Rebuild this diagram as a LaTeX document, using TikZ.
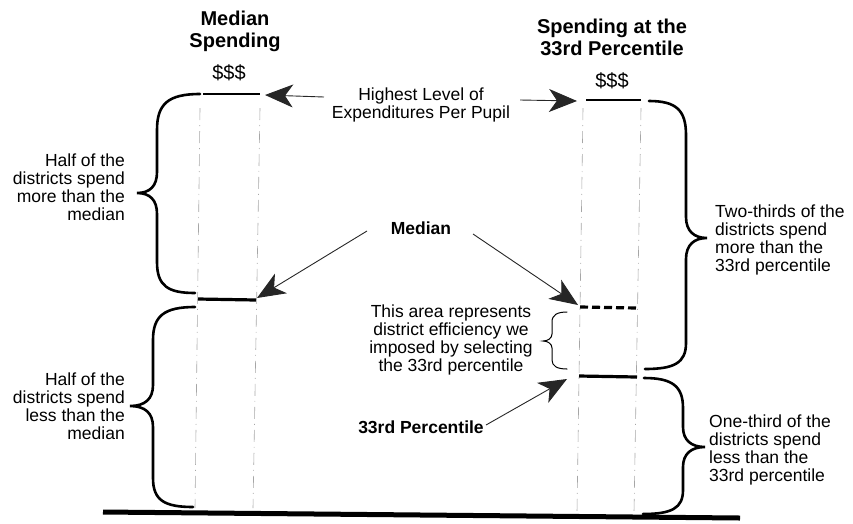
\documentclass[tikz,border=0pt]{standalone}
\usepackage{fontspec}
\setmainfont{Liberation Sans}
\usetikzlibrary{arrows.meta}
\begin{document}
\begin{tikzpicture}[x=1pt,y=-1pt,
  txt/.style={font=\fontsize{17.5}{18}\selectfont, inner sep=0pt},
  bold/.style={font=\fontsize{17.5}{18}\selectfont\bfseries, inner sep=0pt},
  title/.style={font=\fontsize{20}{22}\selectfont\bfseries, inner sep=0pt, align=center},
  dollar/.style={font=\fontsize{20}{22}\selectfont, inner sep=0pt},
  colline/.style={gray!70, line width=0.6pt, dash pattern=on 12pt off 5pt on 1pt off 5pt},
  brace/.style={line width=2.6pt, line cap=round},
  thinbrace/.style={line width=1pt, line cap=round},
  arr/.style={black!85, line width=0.9pt, -{Stealth[length=28pt,width=23pt,inset=8pt]}},
  level/.style={line width=3.2pt}
]
\useasboundingbox (0,0) rectangle (853,523);

% ground
\coordinate (g1) at (103,512);
\coordinate (g2) at (740,518);
\draw[line width=5pt] (g1) -- (g2);

% column guide lines
\coordinate (la1) at (200,108); \coordinate (la2) at (195,508);
\coordinate (lb1) at (260,108); \coordinate (lb2) at (253,508);
\coordinate (ra1) at (583,108); \coordinate (ra2) at (577,512);
\coordinate (rb1) at (641,108); \coordinate (rb2) at (634,512);
\draw[colline] (la1) -- (la2);
\draw[colline] (lb1) -- (lb2);
\draw[colline] (ra1) -- (ra2);
\draw[colline] (rb1) -- (rb2);

% level lines
\coordinate (ltopL) at (203,94); \coordinate (ltopR) at (260,94);
\coordinate (rtopL) at (586,100); \coordinate (rtopR) at (641,100);
\draw[line width=1.2pt] (ltopL) -- (ltopR);
\draw[line width=1.2pt] (rtopL) -- (rtopR);
\coordinate (lmedL) at (198,299); \coordinate (lmedR) at (256,300);
\draw[level] (lmedL) -- (lmedR);
\coordinate (rmedL) at (580,307); \coordinate (rmedR) at (637,308);
\draw[level, dash pattern=on 8pt off 4pt] (rmedL) -- (rmedR);
\coordinate (p33L) at (579,376); \coordinate (p33R) at (637,377);
\draw[level] (p33L) -- (p33R);

% titles
\node[title] (t1) at (235,31) {Median\\Spending};
\node[title] (t2) at (612,37) {Spending at the\\33rd Percentile};
\node[dollar] (d1) at (229,73) {\$\$\$};
\node[dollar] (d2) at (612,81) {\$\$\$};

% highest level
\node[txt, align=center] (hl) at (421,105) {Highest Level of\\Expenditures Per Pupil};
\coordinate (hlL) at (324,97); \coordinate (hlLt) at (265,95);
\coordinate (hlR) at (520,100); \coordinate (hlRt) at (577,101);
\draw[arr] (hlL) -- (hlLt);
\draw[arr] (hlR) -- (hlRt);

% median label
\node[bold] (med) at (421,228) {Median};
\coordinate (medL) at (367,231); \coordinate (medR) at (473,234);
\coordinate (medLt) at (257,298); \coordinate (medRt) at (578,305);
\draw[arr] (medL) -- (medLt);
\draw[arr] (medR) -- (medRt);

% efficiency text
\node[txt, align=center] (eff) at (451,340) {This area represents\\district efficiency we\\imposed by selecting\\the 33rd percentile};

% 33rd percentile label
\node[bold] (p33) at (421,427) {33rd Percentile};
\coordinate (p33s) at (486,425); \coordinate (p33t) at (567,379);
\draw[arr] (p33s) -- (p33t);

% side texts
\node[txt, align=right, anchor=east] (lu) at (125,187) {Half of the\\districts spend\\more than the\\median};
\node[txt, align=right, anchor=east] (ll) at (125,406) {Half of the\\districts spend\\less than the\\median};
\node[txt, align=left, anchor=west] (ru) at (715,240) {Two-thirds of the\\districts spend\\more than the\\33rd percentile};
\node[txt, align=left, anchor=west] (rl) at (709,450) {One-third of the\\districts spend\\less than the\\33rd percentile};

% braces
\draw[brace] (200,94) .. controls (168,94) and (157,104) .. (157,130) -- (157,172)
  .. controls (157,186) and (150,193) .. (137,193)
  .. controls (150,193) and (157,200) .. (157,214) -- (157,262)
  .. controls (157,286) and (168,293) .. (195,293);
\draw[brace] (195,307) .. controls (164,307) and (153,316) .. (153,340) -- (153,385)
  .. controls (153,399) and (145,406) .. (130,406)
  .. controls (145,406) and (153,413) .. (153,427) -- (153,478)
  .. controls (153,500) and (164,507) .. (193,507);
\draw[brace] (649,101) .. controls (676,101) and (686,110) .. (686,135) -- (686,217)
  .. controls (686,231) and (694,238) .. (707,238)
  .. controls (694,238) and (686,245) .. (686,259) -- (686,343)
  .. controls (686,363) and (674,369) .. (645,369);
\draw[brace] (644,378) .. controls (672,378) and (683,386) .. (683,408) -- (683,427)
  .. controls (683,440) and (691,447) .. (705,447)
  .. controls (691,447) and (683,454) .. (683,467) -- (683,490)
  .. controls (683,508) and (672,514) .. (643,514);
\draw[thinbrace] (567,312) .. controls (557,312) and (552,315) .. (552,322) -- (552,334)
  .. controls (552,338) and (548,341) .. (543,341)
  .. controls (548,341) and (552,344) .. (552,348) -- (552,360)
  .. controls (552,366) and (557,369) .. (567,369);
\end{tikzpicture}
\end{document}
